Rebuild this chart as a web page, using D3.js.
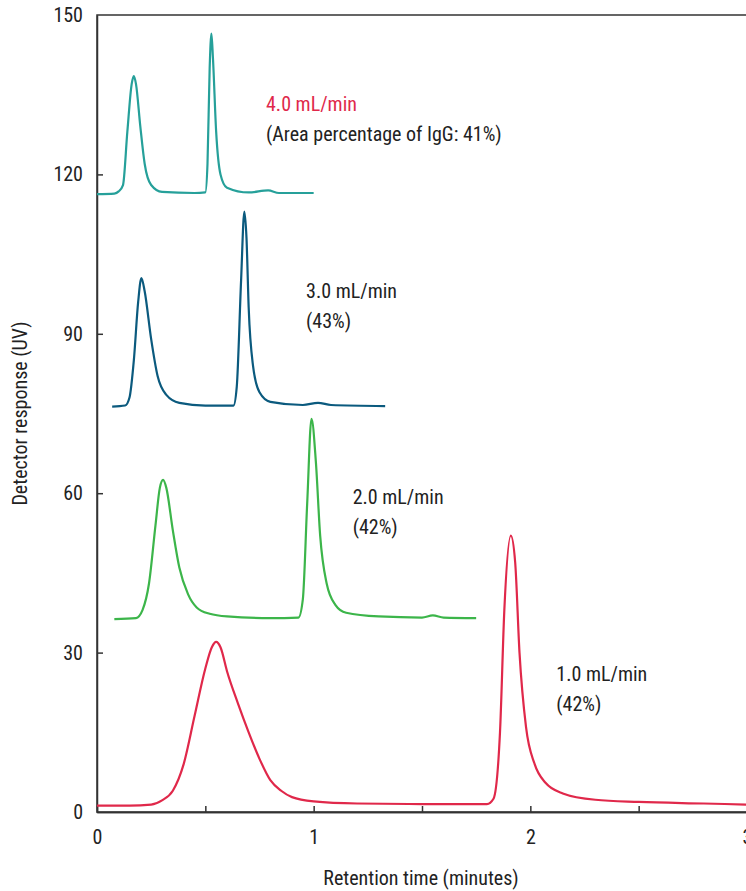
<!DOCTYPE html>
<html>
<head>
<meta charset="utf-8">
<script src="https://cdn.jsdelivr.net/npm/d3@7"></script>
<style>
  body { margin: 0; background: #fff; }
  text { font-family: "Liberation Sans Narrow", "Roboto Condensed", "Arial Narrow", sans-serif; fill: #222; }
</style>
</head>
<body>
<div id="chart"></div>
<script>
// chromatogram traces: [retention time (min), detector response]
var flow1 = [[0,1.2],[0.15,1.2],[0.25,1.4],[0.3,2.2],[0.35,4],[0.4,9],[0.45,18],[0.5,27],[0.53,31],[0.55,32],[0.57,31],[0.6,26.5],[0.65,20.5],[0.7,15],[0.75,10],[0.8,6],[0.85,4],[0.9,2.8],[1.0,2],[1.2,1.6],[1.5,1.5],[1.8,1.5],[1.83,2.5],[1.86,15],[1.88,38],[1.91,52],[1.93,47],[1.95,30],[1.98,16],[2.02,9],[2.07,5.5],[2.15,3.5],[2.3,2.3],[2.5,1.9],[2.8,1.6],[3,1.4]]
var flow2 = [[0.08,36.3],[0.18,36.5],[0.21,38],[0.24,43],[0.27,54],[0.29,61],[0.305,62.5],[0.32,61],[0.35,53],[0.38,46],[0.42,41],[0.46,38.5],[0.52,37.3],[0.6,36.8],[0.8,36.5],[0.93,36.6],[0.95,40],[0.97,58],[0.99,74],[1.01,66],[1.03,52],[1.06,43],[1.1,39],[1.15,37.5],[1.3,36.8],[1.5,36.6],[1.55,37],[1.6,36.6],[1.75,36.5]]
var flow3 = [[0.07,76.3],[0.13,76.5],[0.15,78],[0.17,85],[0.19,96],[0.205,100.5],[0.22,98],[0.25,89],[0.28,82],[0.32,78.5],[0.38,77],[0.5,76.5],[0.63,76.5],[0.645,80],[0.665,100],[0.68,113],[0.69,108],[0.7,95],[0.72,84],[0.75,79],[0.8,77.2],[0.95,76.6],[1.02,77],[1.08,76.6],[1.33,76.4]]
var flow4 = [[0,116.3],[0.08,116.4],[0.1,116.8],[0.12,118],[0.14,128],[0.16,137],[0.17,138.5],[0.18,137],[0.2,129],[0.22,122],[0.25,118],[0.3,116.7],[0.45,116.5],[0.5,116.6],[0.51,122],[0.52,140],[0.528,146.5],[0.535,142],[0.55,128],[0.57,120],[0.6,117.5],[0.7,116.6],[0.79,117],[0.84,116.5],[1.0,116.5]]

var yTicks = [0, 30, 60, 90, 120, 150]
var xTicks = [0, 1, 2, 3]
var xMinor = [0.5, 1.5, 2.5]

var traces = [
    { data: flow1, color: "#e0284a" },
    { data: flow2, color: "#3cb54a" },
    { data: flow3, color: "#0b5a7e" },
    { data: flow4, color: "#26a09a" }
]
// label positions in data units
var labels = [
    { x: 0.78, y: 133.3, lines: ["4.0 mL/min", "(Area percentage of IgG: 41%)"], first: "#e0284a" },
    { x: 0.965, y: 98, lines: ["3.0 mL/min", "(43%)"] },
    { x: 1.18, y: 59.2, lines: ["2.0 mL/min", "(42%)"] },
    { x: 2.12, y: 26, lines: ["1.0 mL/min", "(42%)"] }
]

var margin = { top: 15, right: 0, bottom: 79, left: 97 }
var width = 746, height = 891
var w = 650, h = height - margin.top - margin.bottom

var svg = d3.select("#chart").append("svg")
    .attr("width", width).attr("height", height)
var g = svg.append("g").attr("transform", "translate(" + margin.left + "," + margin.top + ")")

var x = d3.scaleLinear().domain([0, 3]).range([0, w])
var y = d3.scaleLinear().domain([0, 150]).range([h, 0])

// frame
g.append("rect").attr("width", w + 20).attr("height", h)
    .attr("fill", "none").attr("stroke", "#333").attr("stroke-width", 1.5)

//x axis
var xa = g.append("g").attr("transform", "translate(0," + h + ")")
    .call(d3.axisBottom(x).tickValues(xTicks).tickSizeInner(-6).tickSizeOuter(0).tickPadding(18).tickFormat(d3.format("d")))
xa.selectAll(".tick").filter(function (d) { return d === 0 }).select("line").remove()
g.append("g").attr("transform", "translate(0," + h + ")")
    .call(d3.axisBottom(x).tickValues(xMinor).tickSize(-6).tickFormat(""))
//y axis
var ya = g.append("g")
    .call(d3.axisLeft(y).tickValues(yTicks).tickSizeInner(-6).tickSizeOuter(0).tickPadding(14))
ya.selectAll(".tick").filter(function (d) { return d === 0 || d === 150 }).select("line").remove()

g.selectAll(".domain").attr("stroke", "#333").attr("stroke-width", 1.5)
g.selectAll(".tick line").attr("stroke", "#333").attr("stroke-width", 1.5)
g.selectAll(".tick text").style("font-size", "20px").attr("fill", "#222")

var line = d3.line().x(d => x(d[0])).y(d => y(d[1])).curve(d3.curveMonotoneX)
g.selectAll(".trace").data(traces).enter().append("path")
    .attr("d", d => line(d.data))
    .attr("fill", "none").attr("stroke", d => d.color).attr("stroke-width", 2.2)

labels.forEach(function (l) {
    var t = g.append("text").attr("x", x(l.x)).attr("y", y(l.y)).style("font-size", "20px")
    l.lines.forEach(function (s, i) {
        t.append("tspan").attr("x", x(l.x)).attr("dy", i ? 30 : 7)
            .attr("fill", i === 0 && l.first ? l.first : "#222").text(s)
    })
})

svg.append("text").attr("x", margin.left + 324).attr("y", 885)
    .attr("text-anchor", "middle").style("font-size", "20px").text("Retention time (minutes)")
svg.append("text").attr("transform", "translate(27," + (margin.top + h / 2) + ") rotate(-90)")
    .attr("text-anchor", "middle").style("font-size", "20px").text("Detector response (UV)")
</script>
</body>
</html>
